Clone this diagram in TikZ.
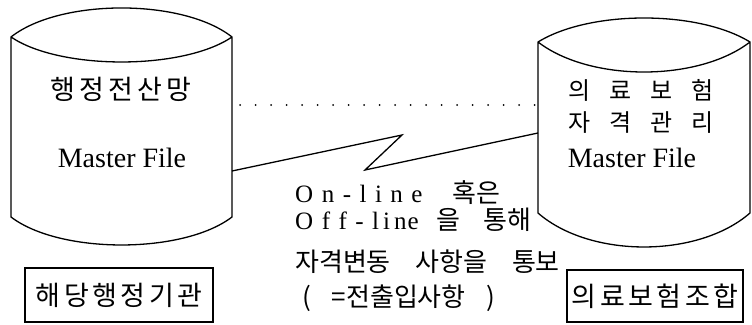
\documentclass[tikz,border=0pt]{standalone}
\usepackage{fontspec}
\setmainfont{Liberation Serif}
\newfontfamily\kr{Noto Sans CJK KR}
\newcommand\lsp{\hspace{8.5pt}}
\newcommand\ksp{\hspace{4pt}}
\newcommand\bsp{\hspace{3.5pt}}
\begin{document}
\begin{tikzpicture}[x=1pt,y=-1pt,
  cyl/.style={draw,line width=1.3pt,line join=round},
  kt/.style={font=\fontsize{27}{29}\selectfont\kr,inner sep=0pt},
  lt/.style={font=\fontsize{28}{30}\selectfont,inner sep=0pt,anchor=base},
  mt/.style={font=\fontsize{25}{27}\selectfont,inner sep=0pt,anchor=base west},
  mk/.style={font=\fontsize{26}{28}\selectfont\kr,inner sep=0pt,anchor=base west},
  lbox/.style={draw,line width=1.3pt,inner sep=0pt,font=\fontsize{27}{29}\selectfont\kr}]
\useasboundingbox (0,0) rectangle (752,324);
% left cylinder
\draw[cyl] (11,37) .. controls (60,-1.7) and (183,-1.7) .. (232,37)
  .. controls (183,70.3) and (60,70.3) .. (11,37) -- (11,217)
  .. controls (60,254.3) and (183,254.3) .. (232,217) -- (232,37);
% right cylinder
\draw[cyl] (538,42) .. controls (590,10) and (698,10) .. (750,42)
  .. controls (698,82) and (590,82) .. (538,42) -- (538,213)
  .. controls (590,258.3) and (698,258.3) .. (750,213) -- (750,42);
\coordinate (Lt) at (240,105);
\coordinate (Rt) at (535,105);
\coordinate (L) at (232,171);
\coordinate (R) at (538,133);
\coordinate (Z1) at (402,135);
\coordinate (Z2) at (365,170);
\draw[line width=2pt,line cap=round,dash pattern=on 0pt off 15.5pt] (Lt) -- (Rt);
\draw[line width=1.3pt,line join=miter] (L) -- (Z1) -- (Z2) -- (R);
% left texts
\node[kt] (a1) at (121,89) {행\ksp 정\ksp 전\ksp 산\ksp 망};
\node[lt] (a2) at (122,167) {Master File};
% right texts
\node[kt,font=\fontsize{24}{26}\selectfont\kr] (b1) at (641,90) {의\hspace{0.8em}료\hspace{0.8em}보\hspace{0.8em}험};
\node[kt,font=\fontsize{24}{26}\selectfont\kr] (b2) at (641,123) {자\hspace{0.8em}격\hspace{0.8em}관\hspace{0.8em}리};
\node[lt] (b3) at (632,167) {Master File};
% middle texts
\node[mt] (m1) at (295,202) {O\lsp n\lsp -\lsp l\lsp i\lsp n\lsp e};
\node[mk] (m1k) at (452,202) {혹은};
\node[mt] (m2) at (295,229) {O\lsp f\lsp f\lsp -\lsp l\hspace{4pt}i\hspace{4pt}n\hspace{1pt}e};
\node[mk] (m2k) at (436,229) {을\hspace{0.9em}통해};
\node[mk] (m3) at (295,271) {자격변동\hspace{0.95em}사항을\hspace{0.95em}통보};
\node[mk] (m4) at (302,306) {(\hspace{0.8em}=전출입사항\hspace{0.8em})};
% boxes
\node[lbox,minimum width=188pt,minimum height=54pt] (c1) at (119,295) {해\bsp 당\bsp 행\bsp 정\bsp 기\bsp 관};
\node[lbox,minimum width=176pt,minimum height=52pt] (c2) at (655,296) {의\bsp 료\bsp 보\bsp 험\bsp 조\bsp 합};
\end{tikzpicture}
\end{document}
